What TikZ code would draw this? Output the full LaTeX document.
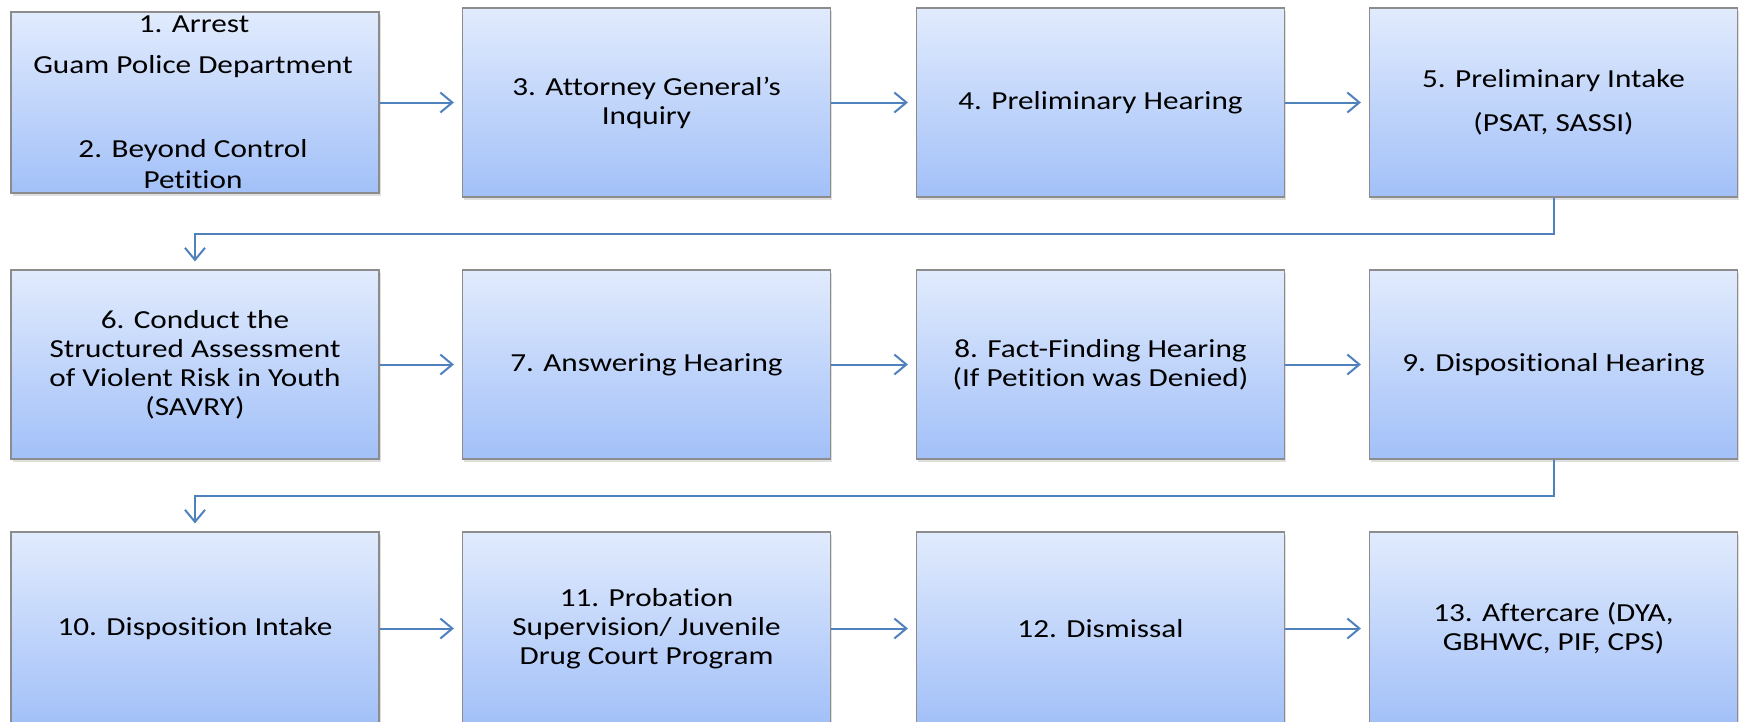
\documentclass[tikz,border=0pt]{standalone}
\usepackage{fontspec}
\setmainfont{Carlito}[FakeStretch=1.2, Ligatures={TeX,NoCommon}]
\usetikzlibrary{arrows.meta,shadows}
\definecolor{linec}{HTML}{4F81BD}
\definecolor{boxtop}{HTML}{E1EBFD}
\definecolor{boxbot}{HTML}{A2C0F8}
\definecolor{boxedge}{HTML}{8C8C8C}
\begin{document}
\begin{tikzpicture}[x=1pt,y=1pt,
  box/.style={draw=boxedge, line width=1.2pt, top color=boxtop, bottom color=boxbot,
    minimum width=368pt, minimum height=189pt, inner sep=0pt, align=center,
    font=\fontsize{26}{29}\selectfont,
    drop shadow={shadow xshift=1.5pt, shadow yshift=-2.5pt, opacity=0.25}},
  lbl/.style={anchor=base, inner sep=0pt, font=\fontsize{26}{29}\selectfont},
  conn/.style={draw=linec, line width=2pt, -{Straight Barb[length=12pt,width=20pt]}, shorten >=8pt}
]
\useasboundingbox (0,0) rectangle (1741,-721);
\clip (0,0) rectangle (1741,-721);
% row 1
\node[box, minimum height=181pt] (b1) at (195,-102.5) {};
\node[lbl] (t1a) at (194,-32) {1. Arrest};
\node[lbl] (t1b) at (193,-73) {Guam Police Department};
\node[lbl] (t1c) at (193,-157) {2. Beyond Control};
\node[lbl] (t1d) at (193,-188) {Petition};
\node[box] (b3) at (646.5,-102.5) {3. Attorney General’s\\Inquiry};
\node[box] (b4) at (1100.5,-102.5) {4. Preliminary Hearing};
\node[box] (b5) at (1553.5,-102.5) {5. Preliminary Intake\\[15pt](PSAT, SASSI)};
% row 2
\node[box] (b6) at (195,-364.5) {6. Conduct the\\Structured Assessment\\of Violent Risk in Youth\\(SAVRY)};
\node[box] (b7) at (646.5,-364.5) {7. Answering Hearing};
\node[box] (b8) at (1100.5,-364.5) {8. Fact-Finding Hearing\\(If Petition was Denied)};
\node[box] (b9) at (1553.5,-364.5) {9. Dispositional Hearing};
% row 3
\node[box, minimum height=193pt] (b10) at (195,-628.5) {10. Disposition Intake};
\node[box, minimum height=193pt] (b11) at (646.5,-628.5) {11. Probation\\Supervision/ Juvenile\\Drug Court Program};
\node[box, minimum height=193pt] (b12) at (1100.5,-628.5) {12. Dismissal};
\node[box, minimum height=193pt] (b13) at (1553.5,-628.5) {13. Aftercare (DYA,\\GBHWC, PIF, CPS)};
% connectors
\draw[conn] (b1.east |- b3.west) -- (b3.west);
\draw[conn] (b3) -- (b4);
\draw[conn] (b4) -- (b5);
\draw[conn] (b5.south) -- ++(0,-36) -| (b6.north);
\draw[conn] (b6) -- (b7);
\draw[conn] (b7) -- (b8);
\draw[conn] (b8) -- (b9);
\draw[conn] (b9.south) -- ++(0,-36) -| (b10.north);
\draw[conn] (b10.east |- b11.west) -- (b11.west);
\draw[conn] (b11.east |- b12.west) -- (b12.west);
\draw[conn] (b12.east |- b13.west) -- (b13.west);
\end{tikzpicture}
\end{document}
